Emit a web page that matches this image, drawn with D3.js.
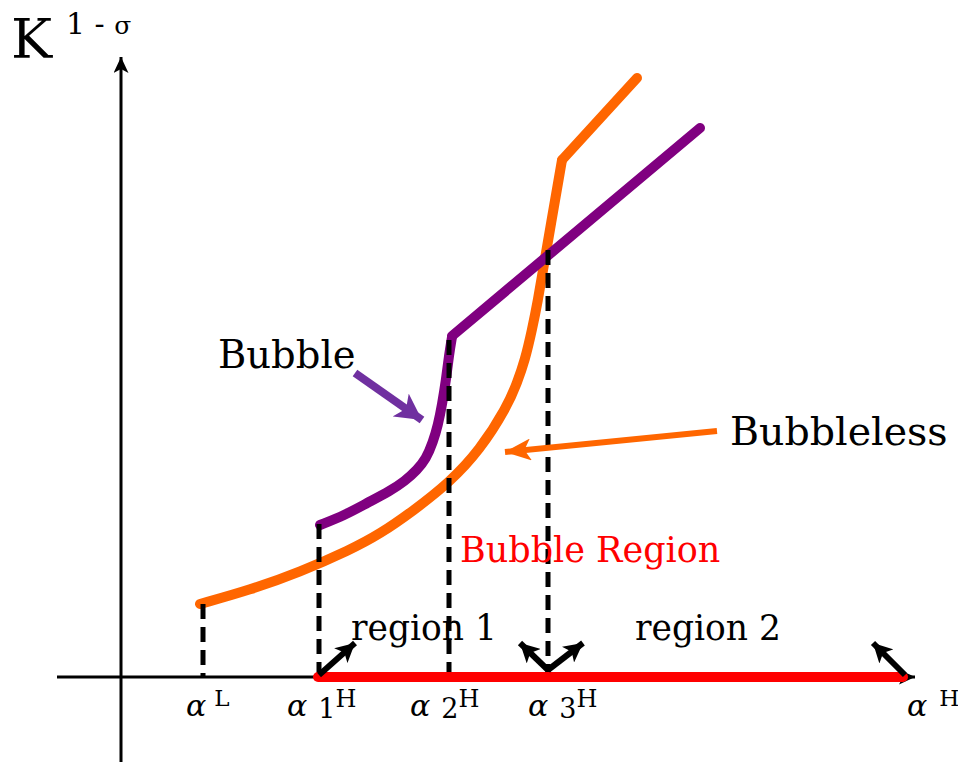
<!DOCTYPE html>
<html>
<head>
<meta charset="utf-8">
<script src="https://cdn.jsdelivr.net/npm/d3@7"></script>
<style>
  body { margin: 0; background: #fff; }
  text { font-family: "DejaVu Serif", "Liberation Serif", serif; }
</style>
</head>
<body>
<svg id="chart" width="958" height="762"></svg>
<script>
// schematic coordinates: origin where the two axes cross
var bubblelessCurve = [
  [79, 73], [129, 87], [179, 105], [229, 127], [259, 143], [292, 166],
  [328, 194], [359, 227], [386, 270], [396, 294], [404, 317], [411, 347],
  [417, 377], [422, 407], [441, 517]
];
var bubblelessTail = [[441, 517], [516, 599]];

var bubbleCurve = [
  [199, 152], [224, 162], [246, 174], [269, 186], [284, 196], [296, 207],
  [305, 218], [312, 235], [317, 252], [321, 272], [325, 297], [328, 322],
  [331, 340]
];
var bubbleTail = [[331, 341], [579, 549]];

// alpha thresholds on the horizontal axis and where their dashed guides stop
var alphaSubs = ["", "1", "2", "3", ""];
var alphaSups = ["L", "H", "H", "H", "H"];
var alphaX = [82, 198, 328, 427, 784];
var guideTop = [73, 153, 337, 427];
var alphaLabelX = [65, 166, 289, 407, 786];

var bubbleRegion = [197, 782];

// little black arrows showing direction of motion
var motionArrows = [
  [[198, 2], [234, 34]],
  [[427, 7], [399, 34]],
  [[427, 7], [462, 34]],
  [[784, 2], [752, 34]]
];

var svg = d3.select("#chart");
var x = d3.scaleLinear().domain([0, 800]).range([121, 921]);
var y = d3.scaleLinear().domain([0, 620]).range([677, 57]);

var defs = svg.append("defs");
function addMarker(id, color, len, wid) {
  defs.append("marker")
    .attr("id", id)
    .attr("markerUnits", "userSpaceOnUse")
    .attr("viewBox", "0 0 " + len + " " + wid)
    .attr("refX", len)
    .attr("refY", wid / 2)
    .attr("markerWidth", len)
    .attr("markerHeight", wid)
    .attr("orient", "auto")
    .append("path")
    .attr("d", "M0,0 L" + len + "," + wid / 2 + " L0," + wid + " L" + len * 0.25 + "," + wid / 2 + " Z")
    .attr("fill", color);
}
addMarker("axisHead", "#000", 16, 15);
addMarker("blackHead", "#000", 19, 20);
addMarker("purpleHead", "#7030A0", 26, 28);
addMarker("orangeHead", "#FF6600", 26, 22);

var line = d3.line().x(function (d) { return x(d[0]); }).y(function (d) { return y(d[1]); });
var curve = d3.line().curve(d3.curveBasis)
  .x(function (d) { return x(d[0]); }).y(function (d) { return y(d[1]); });

// axes
svg.append("line")
  .attr("x1", x(0)).attr("y1", y(-85)).attr("x2", x(0)).attr("y2", y(620))
  .attr("stroke", "#000").attr("stroke-width", 3).attr("marker-end", "url(#axisHead)");
svg.append("line")
  .attr("x1", x(-64)).attr("y1", y(0)).attr("x2", x(794)).attr("y2", y(0))
  .attr("stroke", "#000").attr("stroke-width", 3).attr("marker-end", "url(#axisHead)");

// curves
svg.append("path").attr("d", curve(bubblelessCurve)).attr("fill", "none")
  .attr("stroke", "#FF6600").attr("stroke-width", 10).attr("stroke-linecap", "round");
svg.append("path").attr("d", line(bubblelessTail)).attr("fill", "none")
  .attr("stroke", "#FF6600").attr("stroke-width", 10).attr("stroke-linecap", "round");

svg.append("path").attr("d", curve(bubbleCurve)).attr("fill", "none")
  .attr("stroke", "#800080").attr("stroke-width", 10).attr("stroke-linecap", "round");
svg.append("path").attr("d", line(bubbleTail)).attr("fill", "none")
  .attr("stroke", "#800080").attr("stroke-width", 10).attr("stroke-linecap", "round");

// dashed guides, on top of the curves
alphaX.slice(0, 4).forEach(function (d, i) {
  svg.append("line")
    .attr("x1", x(d)).attr("y1", y(guideTop[i])).attr("x2", x(d)).attr("y2", y(0))
    .attr("stroke", "#000").attr("stroke-width", 5).attr("stroke-dasharray", "15,8");
});

// bubble region on the axis
svg.append("line")
  .attr("x1", x(bubbleRegion[0])).attr("y1", y(0)).attr("x2", x(bubbleRegion[1])).attr("y2", y(0))
  .attr("stroke", "#FF0000").attr("stroke-width", 10).attr("stroke-linecap", "round");

// motion arrows
motionArrows.forEach(function (a) {
  svg.append("line")
    .attr("x1", x(a[0][0])).attr("y1", y(a[0][1])).attr("x2", x(a[1][0])).attr("y2", y(a[1][1]))
    .attr("stroke", "#000").attr("stroke-width", 6).attr("marker-end", "url(#blackHead)");
});

// label pointers
svg.append("line")
  .attr("x1", x(234)).attr("y1", y(304)).attr("x2", x(301)).attr("y2", y(257))
  .attr("stroke", "#7030A0").attr("stroke-width", 8).attr("marker-end", "url(#purpleHead)");
svg.append("line")
  .attr("x1", x(596)).attr("y1", y(246)).attr("x2", x(384)).attr("y2", y(225))
  .attr("stroke", "#FF6600").attr("stroke-width", 6).attr("marker-end", "url(#orangeHead)");

// texts
svg.append("text").attr("x", x(-110)).attr("y", y(619)).attr("font-size", 55).text("K");
var kSup = svg.append("text").attr("x", x(-55)).attr("y", y(643)).attr("font-size", 30);
kSup.append("tspan").text("1 - ");
kSup.append("tspan").attr("font-size", 25).text("σ");

svg.append("text").attr("x", x(97)).attr("y", y(309)).attr("font-size", 38.5).text("Bubble");
svg.append("text").attr("x", x(609)).attr("y", y(232)).attr("font-size", 39.5).text("Bubbleless");
svg.append("text").attr("x", x(339)).attr("y", y(115)).attr("font-size", 35)
  .attr("fill", "#FF0000").text("Bubble Region");
svg.append("text").attr("x", x(230)).attr("y", y(37)).attr("font-size", 34.5).text("region 1");
svg.append("text").attr("x", x(514)).attr("y", y(37)).attr("font-size", 34.5).text("region 2");

alphaSups.forEach(function (sup, i) {
  var t = svg.append("text").attr("x", x(alphaLabelX[i])).attr("y", y(-39)).attr("font-size", 30);
  t.append("tspan").attr("font-style", "italic").text("α");
  var sub = alphaSubs[i];
  if (sub) {
    t.append("tspan").attr("font-size", 27).attr("dx", 11).attr("dy", 2).text(sub);
    t.append("tspan").attr("font-size", 24).attr("dy", -11).text(sup);
  } else {
    t.append("tspan").attr("font-size", 23).attr("dx", i === 4 ? 12 : 8).attr("dy", -10).text(sup);
  }
});
</script>
</body>
</html>
